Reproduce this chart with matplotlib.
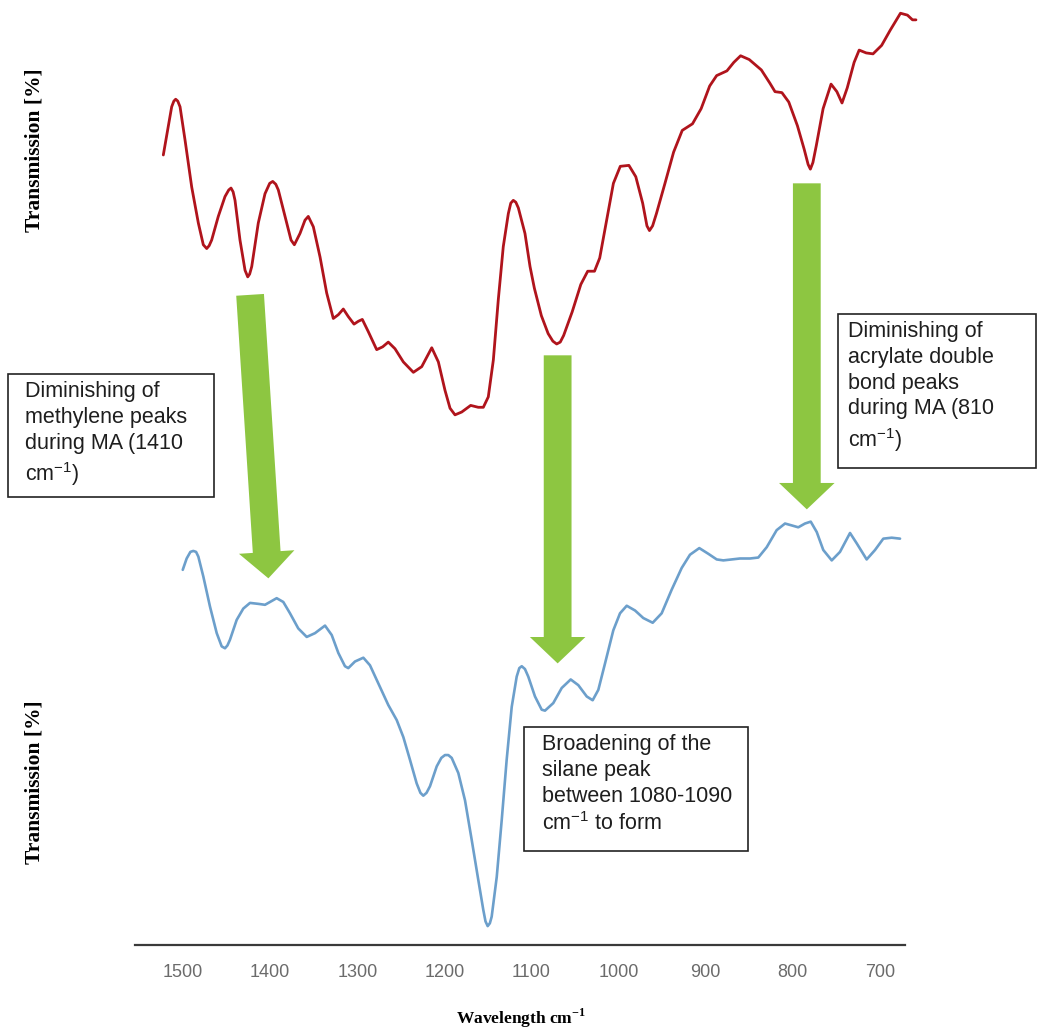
import matplotlib
matplotlib.use("Agg")
import matplotlib.pyplot as plt
from matplotlib.patches import FancyArrowPatch, Rectangle

plt.rcParams["mathtext.fontset"] = "custom"
plt.rcParams["mathtext.rm"] = "Liberation Sans"
plt.rcParams["mathtext.bf"] = "Liberation Serif:bold"

# ----------------------------
# Data (wavenumber in cm-1, transmission in arbitrary %)
# ----------------------------
wn_before = [1522.6, 1516.9, 1513.0, 1510.5, 1508.4, 1506.0, 1503.4, 1497.7, 1490.0, 1482.4,
             1476.7, 1472.8, 1470.0, 1467.1, 1459.5, 1451.8, 1447.5, 1444.9, 1442.5, 1440.3,
             1434.6, 1428.8, 1425.7, 1423.5, 1421.1, 1413.6, 1405.9, 1400.5, 1397.0, 1393.5,
             1390.6, 1382.9, 1376.0, 1372.2, 1365.7, 1360.0, 1356.2, 1350.4,
             1342.7, 1335.1, 1327.5, 1321.7, 1316.0, 1310.3, 1303.7, 1298.8, 1294.2, 1287.3,
             1277.7, 1270.8, 1264.4, 1256.7, 1247.1, 1235.6, 1226.0, 1214.5, 1206.9, 1199.3,
             1193.5, 1187.8, 1180.1, 1169.8, 1161.1, 1155.3, 1149.6, 1143.8, 1138.1, 1132.4,
             1126.6, 1123.8, 1120.9, 1118.0, 1115.1, 1107.5, 1101.7, 1096.7, 1088.7, 1080.9,
             1075.5, 1071.1, 1067.0, 1063.1,
             1053.3, 1043.4, 1035.5, 1027.7, 1021.7, 1013.8, 1006.0, 998.1, 988.2, 980.3,
             972.4, 967.5, 964.6, 961.0, 956.6, 946.8, 936.9, 927.0, 915.2, 905.3, 895.5, 887.5,
             875.7, 867.8, 860.0, 850.1, 836.2, 826.4, 820.5, 812.6, 804.7, 794.8,
             787.0, 782.5, 779.9, 777.0, 773.1, 765.3, 756.2, 749.5, 743.6, 737.6, 729.7, 723.9,
             715.9, 708.0, 698.1, 688.3, 676.5, 668.5, 662.7, 658.7]
tr_before = [83.6, 86.6, 88.7, 89.3, 89.5, 89.3, 88.7, 85.2, 80.2, 76.4,
             74.1, 73.7, 74.0, 74.6, 77.1, 79.2, 79.9, 80.1, 79.7, 78.8,
             74.6, 71.4, 70.7, 71.0, 71.8, 76.4, 79.5, 80.6, 80.8, 80.5,
             79.9, 77.1, 74.6, 74.1, 75.3, 76.7, 77.1, 76.0,
             72.8, 69.0, 66.3, 66.7, 67.3, 66.5, 65.7, 66.0, 66.2, 64.9,
             63.0, 63.3, 63.8, 63.1, 61.7, 60.6, 61.2, 63.2, 61.7, 58.7,
             56.8, 56.1, 56.4, 57.1, 56.9, 56.9, 58.0, 61.9, 68.3, 73.9,
             77.4, 78.5, 78.8, 78.6, 78.0, 75.3, 71.8, 69.5, 66.6, 64.7,
             63.9, 63.6, 63.8, 64.5,
             67.0, 69.9, 71.3, 71.3, 72.7, 76.7, 80.6, 82.4, 82.5, 81.3,
             78.5, 76.1, 75.6, 76.1, 77.4, 80.6, 83.9, 86.2, 86.9, 88.5, 90.9, 92.0,
             92.5, 93.4, 94.1, 93.7, 92.6, 91.2, 90.3, 90.2, 89.2, 86.7,
             84.2, 82.6, 82.1, 82.8, 84.6, 88.5, 91.1, 90.3, 89.1, 90.7, 93.4, 94.7,
             94.4, 94.3, 95.2, 96.8, 98.6, 98.4, 97.9, 97.9]

wn_after = [1500.3, 1495.8, 1491.5, 1488.2, 1485.0, 1482.4, 1476.7, 1469.0, 1461.3, 1455.6,
            1451.8, 1449.0, 1446.1,
            1438.4, 1430.8, 1423.1, 1413.6, 1405.9, 1400.1, 1392.5, 1384.9, 1377.2, 1367.7,
            1358.0, 1348.5, 1337.0, 1329.3, 1321.7, 1314.1, 1310.3, 1302.6, 1293.0, 1285.4,
            1273.9, 1264.4, 1254.7, 1247.1, 1239.5, 1231.8, 1227.5, 1224.2, 1220.5, 1216.5,
            1208.8, 1203.5, 1199.3, 1195.5,
            1191.6, 1184.0, 1176.3, 1168.6, 1161.1, 1155.3, 1152.8, 1150.3, 1147.8, 1145.7,
            1139.9, 1134.2,
            1128.5, 1122.7, 1117.0, 1114.0, 1111.2, 1107.5, 1103.7, 1096.0, 1088.3, 1084.5,
            1075.0, 1065.3,
            1055.0, 1046.3, 1036.6, 1029.8, 1023.3, 1015.6, 1006.1, 998.4, 990.7, 981.2,
            971.7, 960.9, 950.6, 939.1, 927.6, 918.1, 907.4, 897.1, 887.4, 879.8,
            870.2, 860.7, 849.2, 839.7, 830.0, 818.6, 809.0, 801.3, 793.8, 786.1,
            779.5, 772.6, 765.1, 755.4, 745.9, 734.4, 726.7, 715.3, 705.7, 696.2,
            686.6, 677.0]
tr_after = [39.7, 40.9, 41.6, 41.7, 41.6, 41.1, 39.0, 35.8, 33.0, 31.6,
            31.4, 31.7, 32.3,
            34.4, 35.6, 36.2, 36.1, 36.0, 36.3, 36.7, 36.3, 35.1, 33.5,
            32.6, 33.0, 33.8, 32.8, 30.9, 29.5, 29.3, 30.0, 30.4, 29.6,
            27.3, 25.4, 23.8, 22.0, 19.6, 17.1, 16.1, 15.8, 16.1, 16.8,
            18.9, 19.8, 20.1, 20.1,
            19.8, 18.2, 15.3, 11.1, 6.9, 3.7, 2.5, 2.0, 2.3, 3.0,
            7.2, 13.2,
            19.6, 25.2, 28.4, 29.3, 29.5, 29.2, 28.4, 26.3, 24.9, 24.8,
            25.6, 27.2,
            28.1, 27.5, 26.3, 25.9, 27.0, 29.8, 33.3, 35.1, 35.9, 35.4,
            34.6, 34.1, 35.1, 37.6, 39.9, 41.3, 42.0, 41.4, 40.8, 40.7,
            40.8, 40.9, 40.9, 41.0, 42.1, 43.9, 44.6, 44.4, 44.2, 44.6,
            44.8, 43.7, 41.8, 40.7, 41.6, 43.6, 42.5, 40.8, 41.8, 43.0,
            43.1, 43.0]

x_ticks = [1500, 1400, 1300, 1200, 1100, 1000, 900, 800, 700]

# arrows: (wavenumber top, transmission top, wavenumber tip, transmission tip)
arrows = [(1423, 68.8, 1402, 38.8),
          (1070, 62.4, 1070, 29.8),
          (784, 80.6, 784, 46.1)]

W, H = 1039, 1030
fig = plt.figure(figsize=(W / 100, H / 100), dpi=100)
ax = fig.add_axes([135 / W, 85 / H, 770 / W, 945 / H])

ax.plot(wn_before, tr_before, color="#B0141C", lw=2.0, clip_on=False, zorder=3,
        solid_joinstyle="round", solid_capstyle="round")
ax.plot(wn_after, tr_after, color="#6C9FCB", lw=1.9, clip_on=False, zorder=3,
        solid_joinstyle="round", solid_capstyle="round")

ax.set_xlim(1555.1, 671.3)
ax.set_ylim(0, 100)

for s in ["left", "right", "top"]:
    ax.spines[s].set_visible(False)
ax.spines["bottom"].set_linewidth(1.6)
ax.spines["bottom"].set_color("#3a3a3a")
ax.set_yticks([])
ax.set_xticks(x_ticks)
ax.set_xticklabels([str(v) for v in x_ticks], family="Liberation Sans",
                   fontsize=13, color="#6b6b6b")
ax.tick_params(axis="x", length=0, pad=14)

for x0, y0, x1, y1 in arrows:
    arr = FancyArrowPatch((x0, y0), (x1, y1),
                          arrowstyle="simple,head_length=19,head_width=40,tail_width=20",
                          mutation_scale=1, color="#8DC641", lw=0,
                          shrinkA=0, shrinkB=0, zorder=2)
    ax.add_patch(arr)


def px(x, y):
    return x / W, 1 - y / H


# annotation boxes (pixel rectangles, text top-left)
boxes = [
    ((8, 374, 214, 497), (25, 381),
     "Diminishing of\nmethylene peaks\nduring MA (1410\ncm$^{-1}$)"),
    ((838, 314, 1036, 468), (848, 321),
     "Diminishing of\nacrylate double\nbond peaks\nduring MA (810\ncm$^{-1}$)"),
    ((524, 727, 748, 851), (542, 734),
     "Broadening of the\nsilane peak\nbetween 1080-1090\ncm$^{-1}$ to form"),
]
for (x0, y0, x1, y1), (tx, ty), txt in boxes:
    fx0, fy1 = px(x0, y1)
    rect = Rectangle((fx0, fy1), (x1 - x0) / W, (y1 - y0) / H,
                     transform=fig.transFigure, fill=True, facecolor="white",
                     edgecolor="#222222", lw=1.2, zorder=4)
    fig.patches.append(rect)
    fig.text(*px(tx, ty), txt, ha="left", va="top", fontsize=15.5,
             family="Liberation Sans", color="#1e1e1e", linespacing=1.3,
             zorder=5)

# axis labels
fig.text(*px(35, 150), "Transmission [%]", rotation=90, ha="center", va="center",
         family="Liberation Serif", weight="bold", fontsize=15.5)
fig.text(*px(35, 782), "Transmission [%]", rotation=90, ha="center", va="center",
         family="Liberation Serif", weight="bold", fontsize=15.5)
fig.text(*px(521, 1018), r"Wavelength cm$^{\mathbf{-1}}$", ha="center", va="center",
         family="Liberation Serif", weight="bold", fontsize=12.5)

fig.savefig("out.png", dpi=100)
